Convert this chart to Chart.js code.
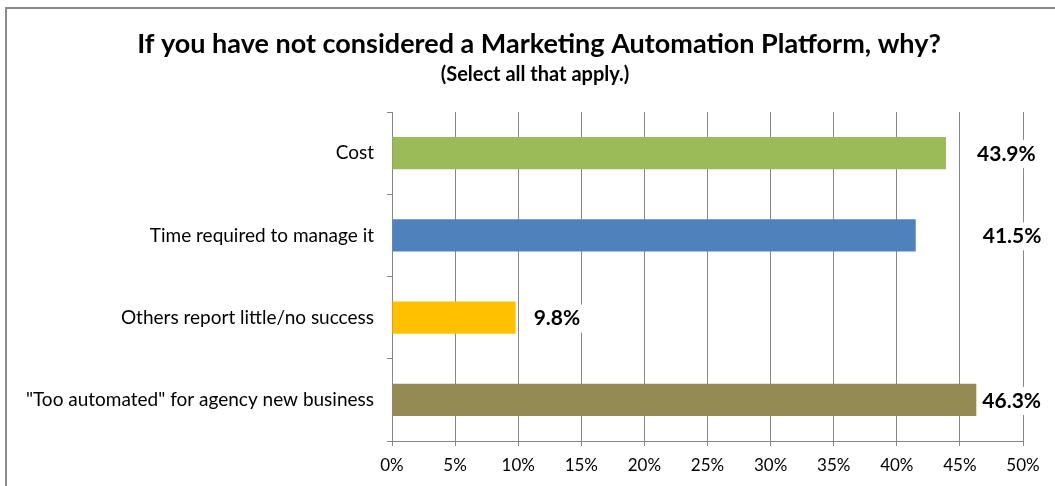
<!DOCTYPE html>
<html>
<head>
<meta charset="utf-8">
<script src="https://cdn.jsdelivr.net/npm/chart.js@4/dist/chart.umd.min.js"></script>
<style>
  html, body { margin: 0; padding: 0; background: #fff; }
  #wrap { position: relative; width: 1055px; height: 486px; }
</style>
</head>
<body>
<div id="wrap"><canvas id="c" width="1055" height="486"></canvas></div>
<script>
// ---- data ----
const categories = ['Cost', 'Time required to manage it', 'Others report little/no success', '"Too automated" for agency new business'];
const values = [43.9, 41.5, 9.8, 46.3];
const barColors = ['#9BBB59', '#4F81BD', '#FFC000', '#948A54'];
const xTicks = [0, 5, 10, 15, 20, 25, 30, 35, 40, 45, 50];
const titleText = 'If you have not considered a Marketing Automation Platform, why?';
const subtitleText = '(Select all that apply.)';

// ---- style ----
const FONT = 'Lato, "Open Sans", "DejaVu Sans", sans-serif';
const labelNudge = [31, 67, 18, 6]; // px gap between bar end and label (as placed in the original)
const gridColor = '#878787';

const framePlugin = {
  id: 'frame',
  beforeDraw(chart) {
    const ctx = chart.ctx;
    ctx.save();
    ctx.fillStyle = '#fff';
    ctx.fillRect(0, 0, chart.width, chart.height);
    ctx.strokeStyle = '#8a8a8a';
    ctx.lineWidth = 2;
    ctx.beginPath();
    ctx.moveTo(6, chart.height);
    ctx.lineTo(6, 8);
    ctx.lineTo(chart.width, 8);
    ctx.stroke();
    // titles
    ctx.fillStyle = '#000';
    ctx.textAlign = 'center';
    ctx.textBaseline = 'middle';
    ctx.font = 'bold 27px ' + FONT;
    ctx.fillText(titleText, 539, 44);
    ctx.font = 'bold 20px ' + FONT;
    ctx.fillText(subtitleText, 535, 75);
    ctx.restore();
  }
};

const valueLabelPlugin = {
  id: 'valueLabels',
  afterDatasetsDraw(chart) {
    const ctx = chart.ctx;
    const meta = chart.getDatasetMeta(0);
    ctx.save();
    ctx.font = 'bold 21px ' + FONT;
    ctx.textBaseline = 'middle';
    ctx.textAlign = 'left';
    meta.data.forEach((bar, i) => {
      const txt = values[i].toFixed(1) + '%';
      const w = ctx.measureText(txt).width;
      const x = bar.x + labelNudge[i];
      const y = bar.y + 1;
      ctx.fillStyle = '#fff';
      ctx.fillRect(x - 4, y - 14, w + 8, 28);
      ctx.fillStyle = '#000';
      ctx.fillText(txt, x, y);
    });
    ctx.restore();
  }
};

new Chart(document.getElementById('c'), {
  type: 'bar',
  data: {
    labels: categories,
    datasets: [{
      data: values,
      backgroundColor: barColors,
      borderWidth: 0,
      categoryPercentage: 1.0,
      barPercentage: 0.39
    }]
  },
  options: {
    indexAxis: 'y',
    responsive: false,
    animation: false,
    layout: { padding: { left: 0, right: 32, top: 112, bottom: 0 } },
    plugins: {
      legend: { display: false },
      tooltip: { enabled: false },
      title: { display: false },
      subtitle: { display: false }
    },
    scales: {
      x: {
        type: 'linear',
        min: 0,
        max: 50,
        afterBuildTicks(scale) { scale.ticks = xTicks.map(v => ({ value: v })); },
        afterFit(scale) { scale.height = 45; },
        ticks: {
          color: '#000',
          font: { family: FONT, size: 17 },
          padding: 9,
          maxRotation: 0,
          callback: v => v + '%'
        },
        grid: { color: gridColor, lineWidth: 1, tickLength: 5, drawTicks: true },
        border: { display: true, color: gridColor, width: 1 }
      },
      y: {
        afterFit(scale) { scale.width = 392; },
        ticks: {
          color: '#000',
          font: { family: FONT, size: 19 },
          padding: 13
        },
        grid: { display: true, drawOnChartArea: false, offset: true, color: gridColor, tickLength: 5 },
        border: { display: true, color: gridColor, width: 1 }
      }
    }
  },
  plugins: [framePlugin, valueLabelPlugin]
});
</script>
</body>
</html>
